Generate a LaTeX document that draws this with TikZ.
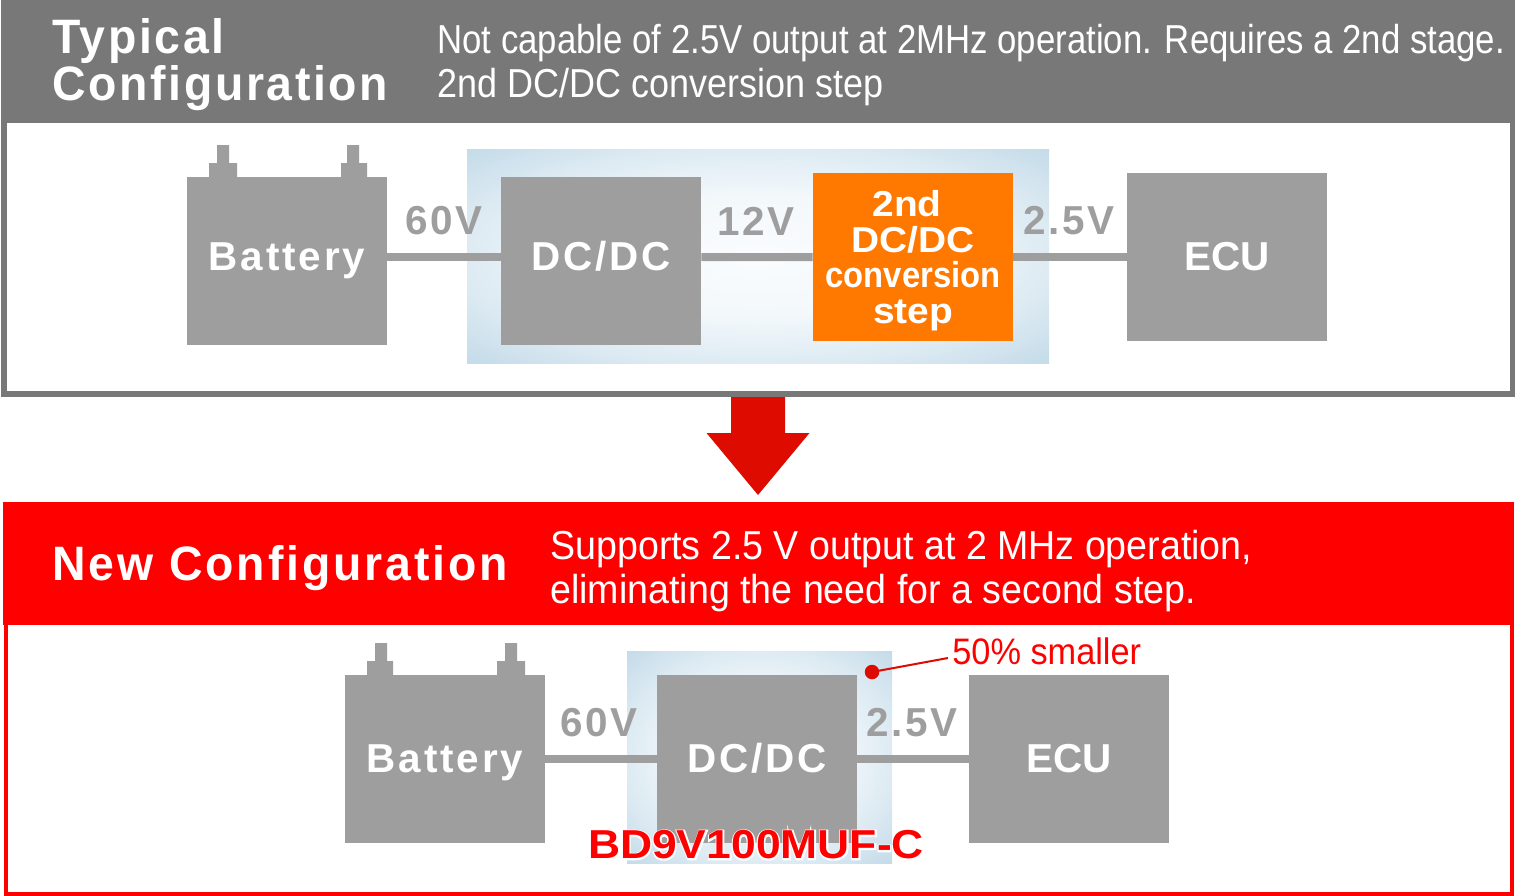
\documentclass[tikz,border=0pt]{standalone}
\usepackage{fontspec}
\usetikzlibrary{positioning}
\setmainfont{Liberation Sans}
\newfontfamily\notefont[FakeStretch=0.86]{Liberation Sans}
\newfontfamily\noteshort[FakeStretch=0.89]{Liberation Sans}
\newfontfamily\newnotefont[FakeStretch=0.93]{Liberation Sans}
\newfontfamily\titlefont[LetterSpace=5.5,FakeStretch=0.96]{Liberation Sans Bold}
\newfontfamily\newtitlefont[LetterSpace=6,FakeStretch=0.96]{Liberation Sans Bold}
\newfontfamily\spacedfont[LetterSpace=7]{Liberation Sans Bold}
\newfontfamily\blockfont{Liberation Sans Bold}
\newfontfamily\orangefont[FakeStretch=1.08]{Liberation Sans Bold}
\newfontfamily\convfont[FakeStretch=0.91]{Liberation Sans Bold}
\newfontfamily\partfont[FakeStretch=1.1]{Liberation Sans Bold}
\newfontfamily\halofont[FakeStretch=1.1,FakeBold=7]{Liberation Sans Bold}
\definecolor{frameGray}{RGB}{120, 120, 120}
\definecolor{blockGray}{RGB}{158, 158, 158}
\definecolor{stepOrange}{RGB}{255, 120, 0}
\definecolor{arrowRed}{RGB}{221, 11, 0}
\definecolor{newRed}{RGB}{255, 0, 0}
\definecolor{glowA}{RGB}{250, 252, 254}
\definecolor{glowB}{RGB}{243, 248, 251}
\definecolor{glowC}{RGB}{222, 235, 243}
\definecolor{glowD}{RGB}{194, 218, 232}
\pgfdeclareradialshading{glow}{\pgfpoint{0bp}{0bp}}{color(0bp)=(glowA); color(14bp)=(glowB); color(25bp)=(glowC); color(36bp)=(glowD); color(50bp)=(glowD)}
\tikzset{
  blocktext/.style={text=white, text height=15pt, text depth=0pt, font=\fontsize{23}{24}\spacedfont},
  blockbox/.style={fill=blockGray, inner sep=0pt, minimum width=4cm, minimum height=3.36cm, blocktext},
  volt/.style={text=blockGray, inner sep=0pt, font=\fontsize{23}{24}\spacedfont},
  wire/.style={blockGray, line width=0.16cm},
  notetext/.style={text=white, inner sep=0pt, anchor=west, font=\fontsize{23}{25}\notefont},
  headtext/.style={text=white, inner sep=0pt, anchor=west, align=left, font=\fontsize{27.5}{26.8}\titlefont}
}
\begin{document}
\begin{tikzpicture}[x=0.02cm, y=-0.02cm]
  \useasboundingbox (0, 0) rectangle (1516, 896);
  % Typical configuration panel
  \fill[frameGray] (1, 0) rectangle (1515, 397);
  \fill[white] (7, 123) rectangle (1510, 391);
  \node[headtext] (typhead) at (52, 65) {Typical\\Configuration};
  \node[notetext] (typnote1) at (437, 43) {Not capable of 2.5V output at 2MHz operation. Requires a 2nd stage.};
  \node[notetext, font=\fontsize{23}{25}\noteshort] (typnote2) at (437, 87) {2nd DC/DC conversion step};
  \shade[shading=glow] (467, 149) rectangle (1049, 363);
  \fill[blockGray] (209, 163) rectangle (237, 177) (217, 145) rectangle (229, 163);
  \fill[blockGray] (341, 163) rectangle (367, 177) (347, 145) rectangle (359, 163);
  \node[blockbox, label={[blocktext, yshift=0.07cm]center:Battery}] (bat1) at (287, 261) {};
  \node[blockbox, label={[blocktext, yshift=0.07cm]center:DC/DC}] (dc1) at (601, 261) {};
  \node[blockbox, fill=stepOrange, align=center, text height=, font=\fontsize{20.5}{20.4}\orangefont] (second) at (913, 257)
    {2nd\rule{0.24cm}{0pt}\\DC/DC\\{\convfont conversion}\\step};
  \node[blockbox, font=\fontsize{23}{24}\blockfont] (ecu1) at (1227, 257) {ECU};
  \draw[wire] ([yshift=0.08cm]bat1.east) -- ([yshift=0.08cm]dc1.west);
  \draw[wire] ([yshift=0.08cm]dc1.east) -- (second.west);
  \draw[wire] (second.east) -- (ecu1.west);
  \node[volt] (v60a) at (444, 221) {60V};
  \node[volt] (v12a) at (756, 221) {12V};
  \node[volt] (v25a) at (1069, 221) {2.5V};
  % Red arrow between the panels
  \fill[arrowRed] (731, 397) -- (785, 397) -- (785, 433) -- (809.5, 433) -- (758, 495)
    -- (706.5, 433) -- (731, 433) -- cycle;
  % New configuration panel
  \fill[newRed] (4, 625) rectangle (1514, 896);
  \fill[newRed] (3, 502) rectangle (1514, 625);
  \fill[white] (8, 625) rectangle (1510, 892);
  \node[headtext, font=\fontsize{27.5}{26.8}\newtitlefont] (newhead) at (52, 568) {New Configuration};
  \node[notetext, font=\fontsize{23}{25}\newnotefont] (newnote1) at (550, 549) {Supports 2.5 V output at 2 MHz operation,};
  \node[notetext, font=\fontsize{23}{25}\newnotefont] (newnote2) at (550, 593) {eliminating the need for a second step.};
  \shade[shading=glow] (627, 651) rectangle (892, 863);
  \fill[blockGray] (367, 661) rectangle (393, 675) (375, 643) rectangle (387, 661);
  \fill[blockGray] (497, 661) rectangle (525, 675) (505, 643) rectangle (517, 661);
  \node[blockbox] (bat2) at (445, 759) {Battery};
  \node[blockbox] (dc2) at (757, 759) {DC/DC};
  \node[blockbox, font=\fontsize{23}{24}\blockfont] (ecu2) at (1069, 759) {ECU};
  \draw[wire] (bat2.east) -- (dc2.west);
  \draw[wire] (dc2.east) -- (ecu2.west);
  \node[volt] (v60b) at (599, 723) {60V};
  \node[volt] (v25b) at (912, 723) {2.5V};
  \node[inner sep=0pt, text=white, font=\fontsize{23}{25}\halofont] (parthalo) at (756, 845) {BD9V100MUF-C};
  \node[inner sep=0pt, text=newRed, font=\fontsize{23}{25}\partfont] (part) at (parthalo) {BD9V100MUF-C};
  \node[circle, fill=arrowRed, inner sep=0pt, minimum size=0.29cm] (dot) at (872, 672) {};
  \node[notetext, text=newRed, font=\fontsize{21}{23}\newnotefont] (smaller) at (952, 651) {50\% smaller};
  \coordinate (leadend) at (948, 658);
  \draw[arrowRed, line width=0.04cm] (dot.center) -- (leadend);
\end{tikzpicture}
\end{document}
